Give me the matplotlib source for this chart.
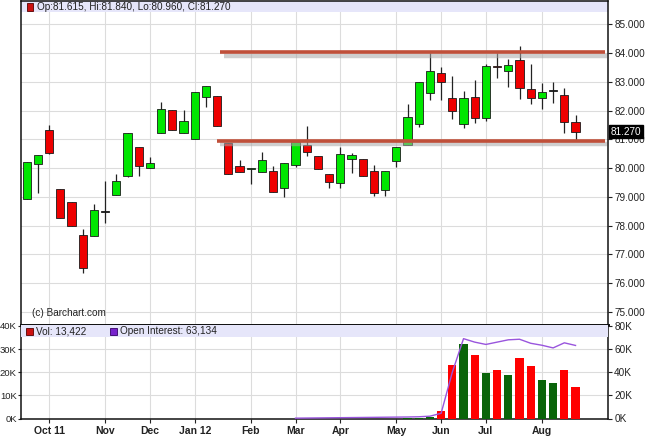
import numpy as np
import matplotlib.pyplot as plt
from matplotlib.patches import Rectangle
from matplotlib.transforms import blended_transform_factory

plt.rcParams['font.family'] = ['Liberation Sans', 'DejaVu Sans']

# weekly bars, Sep 19 2011 .. Aug 27 2012
opens = [78.91, 80.13, 81.33, 79.27, 78.83, 77.67, 77.65, 78.47, 79.07, 79.71,
         80.73, 80.01, 81.23, 82.01, 81.23, 81.00, 82.46, 82.52, 80.88, 80.08,
         79.95, 79.85, 79.91, 79.29, 80.10, 80.79, 80.41, 79.79, 79.49, 80.30,
         80.32, 79.91, 79.22, 80.25, 80.79, 81.52, 82.61, 83.29, 82.43, 81.53,
         82.48, 81.75, 83.53, 83.39, 83.75, 82.75, 82.43, 82.67, 82.55, 81.615]
highs = [80.20, 80.46, 81.50, 79.27, 78.83, 77.87, 78.74, 79.56, 79.79, 81.21,
         80.73, 80.38, 82.31, 82.01, 82.02, 82.64, 82.86, 82.52, 80.88, 80.29,
         79.99, 80.56, 80.07, 80.17, 80.92, 81.47, 80.41, 79.79, 80.74, 80.51,
         80.32, 80.10, 79.91, 80.74, 82.22, 82.98, 83.99, 83.52, 83.20, 82.69,
         83.06, 83.61, 83.99, 83.78, 84.26, 83.62, 82.95, 82.99, 82.77, 81.84]
lows = [78.91, 79.12, 80.48, 78.26, 77.99, 76.34, 77.65, 78.10, 79.07, 79.68,
        79.72, 80.01, 81.23, 81.33, 81.23, 81.00, 82.12, 81.45, 79.79, 79.85,
        79.43, 79.85, 79.15, 79.00, 80.02, 80.42, 79.97, 79.29, 79.29, 79.82,
        79.72, 79.04, 79.04, 80.02, 80.79, 81.42, 82.36, 82.37, 81.70, 81.39,
        81.56, 81.65, 83.12, 82.81, 82.39, 82.24, 82.05, 82.27, 81.23, 80.96]
closes = [80.20, 80.46, 80.52, 78.26, 77.99, 76.52, 78.54, 78.49, 79.54, 81.21,
          80.08, 80.17, 82.04, 81.33, 81.62, 82.64, 82.86, 81.45, 79.79, 79.85,
          79.99, 80.27, 79.18, 80.17, 80.92, 80.55, 79.97, 79.52, 80.49, 80.44,
          79.72, 79.13, 79.91, 80.74, 81.79, 82.98, 83.36, 83.00, 81.97, 82.45,
          81.74, 83.55, 83.50, 83.58, 82.77, 82.45, 82.65, 82.68, 81.61, 81.27]

# volume (thousands), open interest (thousands)
volume = [0] * 34 + [0.2, 0.3, 0.5, 3.3, 23.1, 32.0, 27.5, 19.5, 21.1, 18.6,
                     26.3, 22.7, 16.7, 15.4, 21.1, 13.422]
open_int = [np.nan] * 24 + [0.3, 0.4, 0.5, 0.6, 0.7, 0.8, 0.9, 1.0, 1.1, 1.2,
                            1.3, 1.5, 2.0, 4.5, 40.0, 69.0, 66.0, 64.0, 66.0,
                            68.0, 68.5, 65.0, 63.3, 61.0, 65.4, 63.134]

month_pos = [2, 7, 11, 15, 20, 24, 28, 33, 37, 41, 46]
month_labels = ['Oct 11', 'Nov', 'Dec', 'Jan 12', 'Feb', 'Mar', 'Apr', 'May',
                'Jun', 'Jul', 'Aug']
price_ticks = list(range(75, 86))
levels = [84.03, 80.95]
level_start = [17.3, 17.0]
level_end = 51.63

GREEN = '#00e600'
RED = '#ee0000'
GRID = '#dcdcdc'
BAND = '#e6e6fa'

W, H = 645, 446
fig = plt.figure(figsize=(W / 100, H / 100), dpi=100)
ax = fig.add_axes([21 / W, 1 - 325 / H, 587 / W, 324 / H])
axv = fig.add_axes([21 / W, 1 - 418.5 / H, 587 / W, 93.5 / H])

x = np.arange(len(opens))
o = np.array(opens)
c = np.array(closes)
diff = c - o
colors = ['#111111' if abs(d) < 0.025 else (GREEN if d >= 0 else RED) for d in diff]
bottoms = np.minimum(o, c)
heights = np.maximum(np.abs(diff), 0.035)

# candles
ax.vlines(x, lows, highs, color='#222222', lw=0.9, zorder=3)
ax.bar(x, heights, bottom=bottoms, width=0.74, color=colors,
       edgecolor='#1a1a1a', linewidth=0.6, zorder=4)

# support / resistance lines with shadow
for lv, st in zip(levels, level_start):
    ax.hlines(lv - 0.13, st + 0.3, level_end + 0.2, color='#a8a8a8', lw=3.2,
              alpha=0.55, zorder=4.5)
    ax.hlines(lv, st, level_end, color='#c0503a', lw=2.6, zorder=5)

ax.set_xlim(-0.51, 51.9)
ax.set_ylim(74.54, 85.81)
ax.set_xticks(month_pos)
ax.set_yticks(price_ticks)
ax.grid(True, color=GRID, lw=0.8)
ax.set_axisbelow(True)
ax.tick_params(axis='x', length=0, labelbottom=False)
ax.yaxis.tick_right()
ax.tick_params(axis='y', length=3, width=0.8, pad=1.5, labelsize=7.2,
               colors='#222222')
ax.set_yticklabels([f'{v:.3f}' for v in price_ticks])
for s in ax.spines.values():
    s.set_color('#111111')
    s.set_linewidth(1.1)
ax.spines['bottom'].set_linewidth(2)

ax.add_patch(Rectangle((0, 1 - 11 / 324), 1, 11 / 324, transform=ax.transAxes,
                       facecolor=BAND, edgecolor='none', zorder=1))
ax.text(11 / 587, (325 - 313.3) / 324, '(c) Barchart.com', transform=ax.transAxes,
        fontsize=7.2, va='center', ha='left', color='#222222')

last_tr = blended_transform_factory(ax.transAxes, ax.transData)
ax.text(1.004, closes[-1], f'{closes[-1]:.3f}', transform=last_tr, ha='left',
        va='center', fontsize=7.2, color='white', zorder=10,
        bbox=dict(facecolor='black', edgecolor='black', pad=1.2))

fig.add_artist(Rectangle((27 / W, 1 - 10.5 / H), 6 / W, 7 / H,
                         transform=fig.transFigure, facecolor='#cc1111',
                         edgecolor='#550000', lw=0.6))
fig.text(37 / W, 1 - 7 / H,
         f'Op:{opens[-1]:.3f}, Hi:{highs[-1]:.3f}, Lo:{lows[-1]:.3f}, Cl:{closes[-1]:.3f}',
         fontsize=7.2, va='center', ha='left', color='#222222')

# volume panel
vol_colors = [('#0a640a' if d >= 0 else '#ff0000') for d in diff]
axv.bar(x, volume, width=0.72, color=vol_colors, zorder=3)
axv.set_xlim(-0.51, 51.9)
axv.set_ylim(0, 40.4)
axv.set_yticks([0, 10, 20, 30, 40])
axv.set_yticklabels([f'{v}K' for v in [0, 10, 20, 30, 40]])
axv.set_xticks(month_pos)
axv.set_xticklabels(month_labels, fontweight='bold')
axv.grid(True, color=GRID, lw=0.8)
axv.set_axisbelow(True)
axv.tick_params(axis='x', length=3, width=0.8, pad=2.5, labelsize=7.5,
                colors='#222222')
axv.tick_params(axis='y', length=2.5, width=0.8, pad=0.5, labelsize=6.8,
                colors='#222222')
for s in axv.spines.values():
    s.set_color('#111111')
    s.set_linewidth(1.1)
axv.spines['top'].set_linewidth(2)

axo = axv.twinx()
axo.plot(x, open_int, color='#9955dd', lw=1.0, zorder=4)
axo.set_ylim(0, 80.8)
axo.set_yticks([0, 20, 40, 60, 80])
axo.set_yticklabels([f'{v}K' for v in [0, 20, 40, 60, 80]])
axo.tick_params(axis='y', length=3, width=0.8, pad=1.5, labelsize=7.2,
                colors='#222222')
for s in axo.spines.values():
    s.set_visible(False)

axo.add_patch(Rectangle((0, 1 - 12 / 93.5), 1, 12 / 93.5, transform=axo.transAxes,
                        facecolor=BAND, edgecolor='none', zorder=5))
fig.add_artist(Rectangle((26 / W, 1 - 335 / H), 6.5 / W, 7 / H,
                         transform=fig.transFigure, facecolor='#cc1111',
                         edgecolor='#550000', lw=0.6))
fig.add_artist(Rectangle((110 / W, 1 - 335 / H), 6.5 / W, 7 / H,
                         transform=fig.transFigure, facecolor='#7722cc',
                         edgecolor='#330066', lw=0.6))
fig.text(36.5 / W, 1 - 331.5 / H, f'Vol: {volume[-1] * 1000:,.0f}', fontsize=7.2,
         va='center', ha='left', color='#222222')
fig.text(120.5 / W, 1 - 331.5 / H, f'Open Interest: {open_int[-1] * 1000:,.0f}',
         fontsize=7.2, va='center', ha='left', color='#222222')

fig.savefig('out.png', dpi=100)
